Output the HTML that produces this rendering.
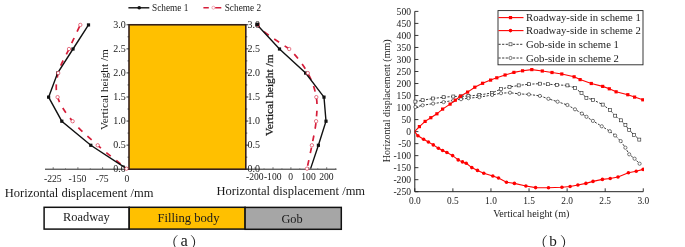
<!DOCTYPE html><html><head><meta charset="utf-8"><title>Figure</title>
<style>html,body{margin:0;padding:0;background:#fff;}svg{display:block;}text{font-family:"Liberation Serif","Noto Serif CJK SC",serif;fill:#1a1a1a;}</style></head><body>
<svg width="685" height="247" viewBox="0 0 685 247">
<rect width="685" height="247" fill="#fff"/>
<rect x="129.0" y="24.78" width="116.80" height="144.42" fill="#FFC000" stroke="#35201c" stroke-width="1.6"/>
<path d="M45 169.2 H129.0" stroke="#222" stroke-width="1" fill="none"/>
<path d="M245.8 169.2 H336.5" stroke="#222" stroke-width="1" fill="none"/>
<path d="M126.5 169.20 H129.0" stroke="#222" stroke-width="0.9"/>
<path d="M245.8 169.20 H248.3" stroke="#222" stroke-width="0.9"/>
<text x="125.7" y="172.20" font-size="10" text-anchor="end">0.0</text>
<text x="247.60000000000002" y="172.20" font-size="10" text-anchor="start">0.0</text>
<path d="M126.5 145.13 H129.0" stroke="#222" stroke-width="0.9"/>
<path d="M245.8 145.13 H248.3" stroke="#222" stroke-width="0.9"/>
<text x="125.7" y="148.13" font-size="10" text-anchor="end">0.5</text>
<text x="247.60000000000002" y="148.13" font-size="10" text-anchor="start">0.5</text>
<path d="M126.5 121.06 H129.0" stroke="#222" stroke-width="0.9"/>
<path d="M245.8 121.06 H248.3" stroke="#222" stroke-width="0.9"/>
<text x="125.7" y="124.06" font-size="10" text-anchor="end">1.0</text>
<text x="247.60000000000002" y="124.06" font-size="10" text-anchor="start">1.0</text>
<path d="M126.5 96.99 H129.0" stroke="#222" stroke-width="0.9"/>
<path d="M245.8 96.99 H248.3" stroke="#222" stroke-width="0.9"/>
<text x="125.7" y="99.99" font-size="10" text-anchor="end">1.5</text>
<text x="247.60000000000002" y="99.99" font-size="10" text-anchor="start">1.5</text>
<path d="M126.5 72.92 H129.0" stroke="#222" stroke-width="0.9"/>
<path d="M245.8 72.92 H248.3" stroke="#222" stroke-width="0.9"/>
<text x="125.7" y="75.92" font-size="10" text-anchor="end">2.0</text>
<text x="247.60000000000002" y="75.92" font-size="10" text-anchor="start">2.0</text>
<path d="M126.5 48.85 H129.0" stroke="#222" stroke-width="0.9"/>
<path d="M245.8 48.85 H248.3" stroke="#222" stroke-width="0.9"/>
<text x="125.7" y="51.85" font-size="10" text-anchor="end">2.5</text>
<text x="247.60000000000002" y="51.85" font-size="10" text-anchor="start">2.5</text>
<path d="M126.5 24.78 H129.0" stroke="#222" stroke-width="0.9"/>
<path d="M245.8 24.78 H248.3" stroke="#222" stroke-width="0.9"/>
<text x="125.7" y="27.78" font-size="10" text-anchor="end">3.0</text>
<text x="247.60000000000002" y="27.78" font-size="10" text-anchor="start">3.0</text>
<path d="M127.5 157.16 H129.0" stroke="#222" stroke-width="0.7"/>
<path d="M245.8 157.16 H247.3" stroke="#222" stroke-width="0.7"/>
<path d="M127.5 133.09 H129.0" stroke="#222" stroke-width="0.7"/>
<path d="M245.8 133.09 H247.3" stroke="#222" stroke-width="0.7"/>
<path d="M127.5 109.02 H129.0" stroke="#222" stroke-width="0.7"/>
<path d="M245.8 109.02 H247.3" stroke="#222" stroke-width="0.7"/>
<path d="M127.5 84.95 H129.0" stroke="#222" stroke-width="0.7"/>
<path d="M245.8 84.95 H247.3" stroke="#222" stroke-width="0.7"/>
<path d="M127.5 60.88 H129.0" stroke="#222" stroke-width="0.7"/>
<path d="M245.8 60.88 H247.3" stroke="#222" stroke-width="0.7"/>
<path d="M127.5 36.81 H129.0" stroke="#222" stroke-width="0.7"/>
<path d="M245.8 36.81 H247.3" stroke="#222" stroke-width="0.7"/>
<path d="M53.2 169.2 v-2" stroke="#444" stroke-width="0.7"/>
<text x="52.800000000000004" y="181.7" font-size="9.7" text-anchor="middle">-225</text>
<path d="M77.9 169.2 v-2" stroke="#444" stroke-width="0.7"/>
<text x="77.5" y="181.7" font-size="9.7" text-anchor="middle">-150</text>
<path d="M102.6 169.2 v-2" stroke="#444" stroke-width="0.7"/>
<text x="102.19999999999999" y="181.7" font-size="9.7" text-anchor="middle">-75</text>
<path d="M127.4 169.2 v-2" stroke="#444" stroke-width="0.7"/>
<text x="127.0" y="181.7" font-size="9.7" text-anchor="middle">0</text>
<path d="M65.5 169.2 v-1.2" stroke="#555" stroke-width="0.5"/>
<path d="M90.3 169.2 v-1.2" stroke="#555" stroke-width="0.5"/>
<path d="M115.0 169.2 v-1.2" stroke="#555" stroke-width="0.5"/>
<path d="M255.10 169.2 v-2" stroke="#444" stroke-width="0.7"/>
<text x="254.80" y="180.1" font-size="9.6" text-anchor="middle">-200</text>
<path d="M273.00 169.2 v-2" stroke="#444" stroke-width="0.7"/>
<text x="272.70" y="180.1" font-size="9.6" text-anchor="middle">-100</text>
<path d="M290.90 169.2 v-2" stroke="#444" stroke-width="0.7"/>
<text x="290.60" y="180.1" font-size="9.6" text-anchor="middle">0</text>
<path d="M308.80 169.2 v-2" stroke="#444" stroke-width="0.7"/>
<text x="308.50" y="180.1" font-size="9.6" text-anchor="middle">100</text>
<path d="M326.70 169.2 v-2" stroke="#444" stroke-width="0.7"/>
<text x="326.40" y="180.1" font-size="9.6" text-anchor="middle">200</text>
<path d="M264.05 169.2 v-1.2" stroke="#555" stroke-width="0.5"/>
<path d="M281.95 169.2 v-1.2" stroke="#555" stroke-width="0.5"/>
<path d="M299.85 169.2 v-1.2" stroke="#555" stroke-width="0.5"/>
<path d="M317.75 169.2 v-1.2" stroke="#555" stroke-width="0.5"/>
<path d="M335.65 169.2 v-1.2" stroke="#555" stroke-width="0.5"/>
<text x="4.8" y="197.2" font-size="12.5">Horizontal displacement /mm</text>
<text x="216.5" y="194.6" font-size="12.5">Horizontal displacement /mm</text>
<text transform="translate(107.6 89.6) rotate(-90)" font-size="11.3" text-anchor="middle">Vertical height /m</text>
<text transform="translate(273.0 95.3) rotate(-90)" font-size="11.4" text-anchor="middle" stroke="#1a1a1a" stroke-width="0.25">Vertical height /m</text>
<path d="M80.3 24.9 C78.4 28.9 72.7 41.0 69.0 49.0 C65.3 57.0 60.1 65.0 58.2 73.1 C56.3 81.1 55.2 89.1 57.6 97.1 C60.0 105.2 65.9 113.2 72.6 121.2 C79.3 129.2 88.7 137.4 97.7 145.3 C106.7 153.2 121.7 164.8 126.5 168.7" fill="none" stroke="#D61E3A" stroke-width="1.7" stroke-dasharray="5.7 6.8" stroke-dashoffset="-2"/>
<path d="M257.8 24.9 C261.5 31.5 274.0 38.5 289.2 49.0 C297.5 57.0 303.3 65.0 307.8 73.1 C312.3 81.1 314.9 89.1 316.3 97.1 C317.7 105.2 316.8 113.2 316.1 121.2 C315.4 129.2 313.4 137.4 311.9 145.3 C310.4 153.2 307.8 164.8 307.0 168.7" fill="none" stroke="#D61E3A" stroke-width="1.7" stroke-dasharray="5.7 6.8" stroke-dashoffset="3"/>
<polyline points="126.5,168.65 90.8,145.28 61.8,121.21 48.6,97.14 57.6,73.07 73.0,49.00 88.5,24.93" fill="none" stroke="#111" stroke-width="1.4"/>
<polyline points="310.6,168.65 318.4,145.28 326.0,121.21 324.0,97.14 305.6,73.07 279.5,49.00 257.3,24.93" fill="none" stroke="#111" stroke-width="1.4"/>
<rect x="89.2" y="143.68" width="3.2" height="3.2" fill="#111"/>
<rect x="60.2" y="119.61" width="3.2" height="3.2" fill="#111"/>
<rect x="47.0" y="95.54" width="3.2" height="3.2" fill="#111"/>
<rect x="56.0" y="71.47" width="3.2" height="3.2" fill="#111"/>
<rect x="71.4" y="47.40" width="3.2" height="3.2" fill="#111"/>
<rect x="86.9" y="23.33" width="3.2" height="3.2" fill="#111"/>
<rect x="316.8" y="143.68" width="3.2" height="3.2" fill="#111"/>
<rect x="324.4" y="119.61" width="3.2" height="3.2" fill="#111"/>
<rect x="322.4" y="95.54" width="3.2" height="3.2" fill="#111"/>
<rect x="304.0" y="71.47" width="3.2" height="3.2" fill="#111"/>
<rect x="277.9" y="47.40" width="3.2" height="3.2" fill="#111"/>
<rect x="255.7" y="23.33" width="3.2" height="3.2" fill="#111"/>
<circle cx="126.5" cy="168.65" r="1.7" fill="#fff" stroke="#D61E3A" stroke-width="0.6"/>
<circle cx="97.7" cy="145.28" r="1.7" fill="#fff" stroke="#D61E3A" stroke-width="0.6"/>
<circle cx="72.6" cy="121.21" r="1.7" fill="#fff" stroke="#D61E3A" stroke-width="0.6"/>
<circle cx="57.6" cy="97.14" r="1.7" fill="#fff" stroke="#D61E3A" stroke-width="0.6"/>
<circle cx="58.2" cy="73.07" r="1.7" fill="#fff" stroke="#D61E3A" stroke-width="0.6"/>
<circle cx="69.0" cy="49.00" r="1.7" fill="#fff" stroke="#D61E3A" stroke-width="0.6"/>
<circle cx="80.3" cy="24.93" r="1.7" fill="#fff" stroke="#D61E3A" stroke-width="0.6"/>
<circle cx="307.0" cy="168.65" r="1.7" fill="#fff" stroke="#D61E3A" stroke-width="0.6"/>
<circle cx="311.9" cy="145.28" r="1.7" fill="#fff" stroke="#D61E3A" stroke-width="0.6"/>
<circle cx="316.1" cy="121.21" r="1.7" fill="#fff" stroke="#D61E3A" stroke-width="0.6"/>
<circle cx="316.3" cy="97.14" r="1.7" fill="#fff" stroke="#D61E3A" stroke-width="0.6"/>
<circle cx="307.8" cy="73.07" r="1.7" fill="#fff" stroke="#D61E3A" stroke-width="0.6"/>
<circle cx="289.2" cy="49.00" r="1.7" fill="#fff" stroke="#D61E3A" stroke-width="0.6"/>
<circle cx="257.8" cy="24.93" r="1.7" fill="#fff" stroke="#D61E3A" stroke-width="0.6"/>
<rect x="255.6" y="22.73" width="3.4" height="3.4" fill="#111"/>
<path d="M128.4 7.8 H149.3" stroke="#111" stroke-width="1.4"/>
<circle cx="139.2" cy="7.8" r="1.8" fill="#111"/>
<text x="152" y="10.9" font-size="9.3">Scheme 1</text>
<path d="M203.4 7.7 H208.8 M215.2 7.7 H221.3" stroke="#D61E3A" stroke-width="1.6"/>
<circle cx="213.4" cy="7.7" r="1.5" fill="#fff" stroke="#D61E3A" stroke-width="0.5" stroke-opacity="0.7"/>
<text x="224.7" y="10.9" font-size="9.3">Scheme 2</text>
<rect x="44.1" y="207.3" width="85.1" height="21.8" fill="#fff" stroke="#111" stroke-width="1.5"/>
<rect x="129.2" y="207.3" width="115.9" height="21.8" fill="#FFC000" stroke="#111" stroke-width="1.5"/>
<rect x="245.1" y="207.4" width="96.2" height="21.9" fill="#A6A6A6" stroke="#111" stroke-width="1.5"/>
<text x="86.4" y="220.6" font-size="12.4" text-anchor="middle">Roadway</text>
<text x="188.5" y="221.8" font-size="12.6" text-anchor="middle">Filling body</text>
<text x="292" y="222.5" font-size="12.3" text-anchor="middle">Gob</text>
<text font-size="15.5"><tspan x="163.2" y="247.6">（</tspan><tspan x="180.4" y="246.3" font-size="16.5">a</tspan><tspan x="189.7" y="247.6">）</tspan></text>
<path d="M414.8 11.40 V191.70 H643.28" stroke="#222" stroke-width="1" fill="none"/>
<path d="M414.8 191.70 h3.6" stroke="#222" stroke-width="0.9"/>
<text x="411" y="194.90" font-size="9.6" text-anchor="end">-250</text>
<path d="M414.8 179.68 h3.6" stroke="#222" stroke-width="0.9"/>
<text x="411" y="182.88" font-size="9.6" text-anchor="end">-200</text>
<path d="M414.8 167.66 h3.6" stroke="#222" stroke-width="0.9"/>
<text x="411" y="170.86" font-size="9.6" text-anchor="end">-150</text>
<path d="M414.8 155.64 h3.6" stroke="#222" stroke-width="0.9"/>
<text x="411" y="158.84" font-size="9.6" text-anchor="end">-100</text>
<path d="M414.8 143.62 h3.6" stroke="#222" stroke-width="0.9"/>
<text x="411" y="146.82" font-size="9.6" text-anchor="end">-50</text>
<path d="M414.8 131.60 h3.6" stroke="#222" stroke-width="0.9"/>
<text x="411" y="134.80" font-size="9.6" text-anchor="end">0</text>
<path d="M414.8 119.58 h3.6" stroke="#222" stroke-width="0.9"/>
<text x="411" y="122.78" font-size="9.6" text-anchor="end">50</text>
<path d="M414.8 107.56 h3.6" stroke="#222" stroke-width="0.9"/>
<text x="411" y="110.76" font-size="9.6" text-anchor="end">100</text>
<path d="M414.8 95.54 h3.6" stroke="#222" stroke-width="0.9"/>
<text x="411" y="98.74" font-size="9.6" text-anchor="end">150</text>
<path d="M414.8 83.52 h3.6" stroke="#222" stroke-width="0.9"/>
<text x="411" y="86.72" font-size="9.6" text-anchor="end">200</text>
<path d="M414.8 71.50 h3.6" stroke="#222" stroke-width="0.9"/>
<text x="411" y="74.70" font-size="9.6" text-anchor="end">250</text>
<path d="M414.8 59.48 h3.6" stroke="#222" stroke-width="0.9"/>
<text x="411" y="62.68" font-size="9.6" text-anchor="end">300</text>
<path d="M414.8 47.46 h3.6" stroke="#222" stroke-width="0.9"/>
<text x="411" y="50.66" font-size="9.6" text-anchor="end">350</text>
<path d="M414.8 35.44 h3.6" stroke="#222" stroke-width="0.9"/>
<text x="411" y="38.64" font-size="9.6" text-anchor="end">400</text>
<path d="M414.8 23.42 h3.6" stroke="#222" stroke-width="0.9"/>
<text x="411" y="26.62" font-size="9.6" text-anchor="end">450</text>
<path d="M414.8 11.40 h3.6" stroke="#222" stroke-width="0.9"/>
<text x="411" y="14.60" font-size="9.6" text-anchor="end">500</text>
<path d="M414.80 191.70 v-3.4" stroke="#222" stroke-width="0.9"/>
<text x="414.80" y="203.6" font-size="9.4" text-anchor="middle">0.0</text>
<path d="M452.88 191.70 v-3.4" stroke="#222" stroke-width="0.9"/>
<text x="452.88" y="203.6" font-size="9.4" text-anchor="middle">0.5</text>
<path d="M490.96 191.70 v-3.4" stroke="#222" stroke-width="0.9"/>
<text x="490.96" y="203.6" font-size="9.4" text-anchor="middle">1.0</text>
<path d="M529.04 191.70 v-3.4" stroke="#222" stroke-width="0.9"/>
<text x="529.04" y="203.6" font-size="9.4" text-anchor="middle">1.5</text>
<path d="M567.12 191.70 v-3.4" stroke="#222" stroke-width="0.9"/>
<text x="567.12" y="203.6" font-size="9.4" text-anchor="middle">2.0</text>
<path d="M605.20 191.70 v-3.4" stroke="#222" stroke-width="0.9"/>
<text x="605.20" y="203.6" font-size="9.4" text-anchor="middle">2.5</text>
<path d="M643.28 191.70 v-3.4" stroke="#222" stroke-width="0.9"/>
<text x="643.28" y="203.6" font-size="9.4" text-anchor="middle">3.0</text>
<text x="531.3" y="217.0" font-size="10.1" text-anchor="middle">Vertical height (m)</text>
<text transform="translate(389.9 100.8) rotate(-90)" font-size="10" text-anchor="middle">Horizontal displacement (mm)</text>
<text font-size="15.5"><tspan x="532.4" y="247.6">（</tspan><tspan x="549.3" y="246.3" font-size="15.2">b</tspan><tspan x="559.7" y="247.6">）</tspan></text>
<defs><clipPath id="cb"><rect x="412" y="8" width="231.9" height="186"/></clipPath></defs>
<g clip-path="url(#cb)">
<polyline points="415.4,101.6 422.6,100.2 433.1,98.5 443.6,97.2 453.3,96.5 461.0,96.3 468.4,96.0 479.3,95.0 492.1,92.9 501.0,89.0 509.5,87.1 518.7,85.4 528.9,84.2 539.9,83.7 547.9,84.2 556.9,84.9 567.4,85.4 574.9,88.0 581.5,93.0 586.4,97.8 593.0,99.8 602.7,104.6 610.0,110.0 615.2,115.7 620.8,120.3 625.4,125.1 629.2,130.0 634.1,134.8 639.3,139.6" fill="none" stroke="#222" stroke-width="0.9" stroke-dasharray="2.2 1.4"/>
<polyline points="415.4,107.0 422.6,105.3 433.1,103.6 443.6,102.1 453.3,100.4 461.0,99.2 468.4,98.2 479.3,97.2 492.1,95.0 501.0,93.2 510.0,92.7 519.2,93.9 528.9,94.4 539.9,95.9 548.4,98.8 557.6,101.7 567.4,105.0 575.0,109.3 581.9,113.6 586.5,116.8 592.9,120.9 601.8,126.3 609.8,131.2 615.1,135.5 620.7,141.1 625.4,147.7 629.2,154.3 634.6,158.7 639.6,163.7" fill="none" stroke="#222" stroke-width="0.9" stroke-dasharray="2.2 1.4"/>
<rect x="413.9" y="100.1" width="3" height="3" fill="#fff" stroke="#222" stroke-width="0.6"/>
<rect x="421.1" y="98.7" width="3" height="3" fill="#fff" stroke="#222" stroke-width="0.6"/>
<rect x="431.6" y="97.0" width="3" height="3" fill="#fff" stroke="#222" stroke-width="0.6"/>
<rect x="442.1" y="95.7" width="3" height="3" fill="#fff" stroke="#222" stroke-width="0.6"/>
<rect x="451.8" y="95.0" width="3" height="3" fill="#fff" stroke="#222" stroke-width="0.6"/>
<rect x="459.5" y="94.8" width="3" height="3" fill="#fff" stroke="#222" stroke-width="0.6"/>
<rect x="466.9" y="94.5" width="3" height="3" fill="#fff" stroke="#222" stroke-width="0.6"/>
<rect x="477.8" y="93.5" width="3" height="3" fill="#fff" stroke="#222" stroke-width="0.6"/>
<rect x="490.6" y="91.4" width="3" height="3" fill="#fff" stroke="#222" stroke-width="0.6"/>
<rect x="499.5" y="87.5" width="3" height="3" fill="#fff" stroke="#222" stroke-width="0.6"/>
<rect x="508.0" y="85.6" width="3" height="3" fill="#fff" stroke="#222" stroke-width="0.6"/>
<rect x="517.2" y="83.9" width="3" height="3" fill="#fff" stroke="#222" stroke-width="0.6"/>
<rect x="527.4" y="82.7" width="3" height="3" fill="#fff" stroke="#222" stroke-width="0.6"/>
<rect x="538.4" y="82.2" width="3" height="3" fill="#fff" stroke="#222" stroke-width="0.6"/>
<rect x="546.4" y="82.7" width="3" height="3" fill="#fff" stroke="#222" stroke-width="0.6"/>
<rect x="555.4" y="83.4" width="3" height="3" fill="#fff" stroke="#222" stroke-width="0.6"/>
<rect x="565.9" y="83.9" width="3" height="3" fill="#fff" stroke="#222" stroke-width="0.6"/>
<rect x="573.4" y="86.5" width="3" height="3" fill="#fff" stroke="#222" stroke-width="0.6"/>
<rect x="580.0" y="91.5" width="3" height="3" fill="#fff" stroke="#222" stroke-width="0.6"/>
<rect x="584.9" y="96.3" width="3" height="3" fill="#fff" stroke="#222" stroke-width="0.6"/>
<rect x="591.5" y="98.3" width="3" height="3" fill="#fff" stroke="#222" stroke-width="0.6"/>
<rect x="601.2" y="103.1" width="3" height="3" fill="#fff" stroke="#222" stroke-width="0.6"/>
<rect x="608.5" y="108.5" width="3" height="3" fill="#fff" stroke="#222" stroke-width="0.6"/>
<rect x="613.7" y="114.2" width="3" height="3" fill="#fff" stroke="#222" stroke-width="0.6"/>
<rect x="619.3" y="118.8" width="3" height="3" fill="#fff" stroke="#222" stroke-width="0.6"/>
<rect x="623.9" y="123.6" width="3" height="3" fill="#fff" stroke="#222" stroke-width="0.6"/>
<rect x="627.7" y="128.5" width="3" height="3" fill="#fff" stroke="#222" stroke-width="0.6"/>
<rect x="632.6" y="133.3" width="3" height="3" fill="#fff" stroke="#222" stroke-width="0.6"/>
<rect x="637.8" y="138.1" width="3" height="3" fill="#fff" stroke="#222" stroke-width="0.6"/>
<circle cx="415.4" cy="107.0" r="1.6" fill="#fff" stroke="#222" stroke-width="0.6"/>
<circle cx="422.6" cy="105.3" r="1.6" fill="#fff" stroke="#222" stroke-width="0.6"/>
<circle cx="433.1" cy="103.6" r="1.6" fill="#fff" stroke="#222" stroke-width="0.6"/>
<circle cx="443.6" cy="102.1" r="1.6" fill="#fff" stroke="#222" stroke-width="0.6"/>
<circle cx="453.3" cy="100.4" r="1.6" fill="#fff" stroke="#222" stroke-width="0.6"/>
<circle cx="461.0" cy="99.2" r="1.6" fill="#fff" stroke="#222" stroke-width="0.6"/>
<circle cx="468.4" cy="98.2" r="1.6" fill="#fff" stroke="#222" stroke-width="0.6"/>
<circle cx="479.3" cy="97.2" r="1.6" fill="#fff" stroke="#222" stroke-width="0.6"/>
<circle cx="492.1" cy="95.0" r="1.6" fill="#fff" stroke="#222" stroke-width="0.6"/>
<circle cx="501.0" cy="93.2" r="1.6" fill="#fff" stroke="#222" stroke-width="0.6"/>
<circle cx="510.0" cy="92.7" r="1.6" fill="#fff" stroke="#222" stroke-width="0.6"/>
<circle cx="519.2" cy="93.9" r="1.6" fill="#fff" stroke="#222" stroke-width="0.6"/>
<circle cx="528.9" cy="94.4" r="1.6" fill="#fff" stroke="#222" stroke-width="0.6"/>
<circle cx="539.9" cy="95.9" r="1.6" fill="#fff" stroke="#222" stroke-width="0.6"/>
<circle cx="548.4" cy="98.8" r="1.6" fill="#fff" stroke="#222" stroke-width="0.6"/>
<circle cx="557.6" cy="101.7" r="1.6" fill="#fff" stroke="#222" stroke-width="0.6"/>
<circle cx="567.4" cy="105.0" r="1.6" fill="#fff" stroke="#222" stroke-width="0.6"/>
<circle cx="575.0" cy="109.3" r="1.6" fill="#fff" stroke="#222" stroke-width="0.6"/>
<circle cx="581.9" cy="113.6" r="1.6" fill="#fff" stroke="#222" stroke-width="0.6"/>
<circle cx="586.5" cy="116.8" r="1.6" fill="#fff" stroke="#222" stroke-width="0.6"/>
<circle cx="592.9" cy="120.9" r="1.6" fill="#fff" stroke="#222" stroke-width="0.6"/>
<circle cx="601.8" cy="126.3" r="1.6" fill="#fff" stroke="#222" stroke-width="0.6"/>
<circle cx="609.8" cy="131.2" r="1.6" fill="#fff" stroke="#222" stroke-width="0.6"/>
<circle cx="615.1" cy="135.5" r="1.6" fill="#fff" stroke="#222" stroke-width="0.6"/>
<circle cx="620.7" cy="141.1" r="1.6" fill="#fff" stroke="#222" stroke-width="0.6"/>
<circle cx="625.4" cy="147.7" r="1.6" fill="#fff" stroke="#222" stroke-width="0.6"/>
<circle cx="629.2" cy="154.3" r="1.6" fill="#fff" stroke="#222" stroke-width="0.6"/>
<circle cx="634.6" cy="158.7" r="1.6" fill="#fff" stroke="#222" stroke-width="0.6"/>
<circle cx="639.6" cy="163.7" r="1.6" fill="#fff" stroke="#222" stroke-width="0.6"/>
<polyline points="414.8,131.4 419.4,126.6 425.1,121.4 430.8,117.7 436.9,113.8 442.6,109.1 450.1,104.1 455.3,100.2 460.4,96.3 467.6,92.1 474.8,87.2 482.6,83.3 490.6,80.1 496.8,77.8 505.1,75.0 513.9,72.4 522.6,70.8 531.8,69.6 542.3,71.0 552.0,72.5 561.8,74.0 574.1,76.8 580.1,79.6 591.3,83.5 602.7,86.4 609.3,88.8 616.1,91.8 627.8,94.7 634.6,97.1 642.8,99.8" fill="none" stroke="#FF0000" stroke-width="1.1"/>
<polyline points="414.8,131.8 417.9,135.8 423.6,139.2 428.4,142.0 433.3,144.9 438.4,148.3 442.6,150.5 446.9,152.5 452.6,155.6 458.2,159.9 462.5,161.9 466.2,163.3 471.8,167.6 477.5,170.4 483.8,173.2 492.8,176.0 498.5,178.0 506.5,182.3 514.4,183.4 525.9,186.0 535.6,187.6 548.5,187.7 561.9,187.2 570.1,186.5 577.9,185.0 585.9,183.4 593.0,181.4 602.4,179.4 610.2,178.5 618.0,177.0 628.4,172.7 636.2,171.2 643.1,169.4" fill="none" stroke="#FF0000" stroke-width="1.1"/>
<rect x="417.8" y="125.0" width="3.2" height="3.2" fill="#FF0000"/>
<rect x="423.5" y="119.8" width="3.2" height="3.2" fill="#FF0000"/>
<rect x="429.2" y="116.1" width="3.2" height="3.2" fill="#FF0000"/>
<rect x="435.3" y="112.2" width="3.2" height="3.2" fill="#FF0000"/>
<rect x="441.0" y="107.5" width="3.2" height="3.2" fill="#FF0000"/>
<rect x="448.5" y="102.5" width="3.2" height="3.2" fill="#FF0000"/>
<rect x="453.7" y="98.6" width="3.2" height="3.2" fill="#FF0000"/>
<rect x="458.8" y="94.7" width="3.2" height="3.2" fill="#FF0000"/>
<rect x="466.0" y="90.5" width="3.2" height="3.2" fill="#FF0000"/>
<rect x="473.2" y="85.6" width="3.2" height="3.2" fill="#FF0000"/>
<rect x="481.0" y="81.7" width="3.2" height="3.2" fill="#FF0000"/>
<rect x="489.0" y="78.5" width="3.2" height="3.2" fill="#FF0000"/>
<rect x="495.2" y="76.2" width="3.2" height="3.2" fill="#FF0000"/>
<rect x="503.5" y="73.4" width="3.2" height="3.2" fill="#FF0000"/>
<rect x="512.3" y="70.8" width="3.2" height="3.2" fill="#FF0000"/>
<rect x="521.0" y="69.2" width="3.2" height="3.2" fill="#FF0000"/>
<rect x="530.2" y="68.0" width="3.2" height="3.2" fill="#FF0000"/>
<rect x="540.7" y="69.4" width="3.2" height="3.2" fill="#FF0000"/>
<rect x="550.4" y="70.9" width="3.2" height="3.2" fill="#FF0000"/>
<rect x="560.2" y="72.4" width="3.2" height="3.2" fill="#FF0000"/>
<rect x="572.5" y="75.2" width="3.2" height="3.2" fill="#FF0000"/>
<rect x="578.5" y="78.0" width="3.2" height="3.2" fill="#FF0000"/>
<rect x="589.7" y="81.9" width="3.2" height="3.2" fill="#FF0000"/>
<rect x="601.1" y="84.8" width="3.2" height="3.2" fill="#FF0000"/>
<rect x="607.7" y="87.2" width="3.2" height="3.2" fill="#FF0000"/>
<rect x="614.5" y="90.2" width="3.2" height="3.2" fill="#FF0000"/>
<rect x="626.2" y="93.1" width="3.2" height="3.2" fill="#FF0000"/>
<rect x="633.0" y="95.5" width="3.2" height="3.2" fill="#FF0000"/>
<rect x="641.2" y="98.2" width="3.2" height="3.2" fill="#FF0000"/>
<circle cx="417.9" cy="135.8" r="1.8" fill="#FF0000"/>
<circle cx="423.6" cy="139.2" r="1.8" fill="#FF0000"/>
<circle cx="428.4" cy="142.0" r="1.8" fill="#FF0000"/>
<circle cx="433.3" cy="144.9" r="1.8" fill="#FF0000"/>
<circle cx="438.4" cy="148.3" r="1.8" fill="#FF0000"/>
<circle cx="442.6" cy="150.5" r="1.8" fill="#FF0000"/>
<circle cx="446.9" cy="152.5" r="1.8" fill="#FF0000"/>
<circle cx="452.6" cy="155.6" r="1.8" fill="#FF0000"/>
<circle cx="458.2" cy="159.9" r="1.8" fill="#FF0000"/>
<circle cx="462.5" cy="161.9" r="1.8" fill="#FF0000"/>
<circle cx="466.2" cy="163.3" r="1.8" fill="#FF0000"/>
<circle cx="471.8" cy="167.6" r="1.8" fill="#FF0000"/>
<circle cx="477.5" cy="170.4" r="1.8" fill="#FF0000"/>
<circle cx="483.8" cy="173.2" r="1.8" fill="#FF0000"/>
<circle cx="492.8" cy="176.0" r="1.8" fill="#FF0000"/>
<circle cx="498.5" cy="178.0" r="1.8" fill="#FF0000"/>
<circle cx="506.5" cy="182.3" r="1.8" fill="#FF0000"/>
<circle cx="514.4" cy="183.4" r="1.8" fill="#FF0000"/>
<circle cx="525.9" cy="186.0" r="1.8" fill="#FF0000"/>
<circle cx="535.6" cy="187.6" r="1.8" fill="#FF0000"/>
<circle cx="548.5" cy="187.7" r="1.8" fill="#FF0000"/>
<circle cx="561.9" cy="187.2" r="1.8" fill="#FF0000"/>
<circle cx="570.1" cy="186.5" r="1.8" fill="#FF0000"/>
<circle cx="577.9" cy="185.0" r="1.8" fill="#FF0000"/>
<circle cx="585.9" cy="183.4" r="1.8" fill="#FF0000"/>
<circle cx="593.0" cy="181.4" r="1.8" fill="#FF0000"/>
<circle cx="602.4" cy="179.4" r="1.8" fill="#FF0000"/>
<circle cx="610.2" cy="178.5" r="1.8" fill="#FF0000"/>
<circle cx="618.0" cy="177.0" r="1.8" fill="#FF0000"/>
<circle cx="628.4" cy="172.7" r="1.8" fill="#FF0000"/>
<circle cx="636.2" cy="171.2" r="1.8" fill="#FF0000"/>
<circle cx="643.1" cy="169.4" r="1.8" fill="#FF0000"/>
</g>
<rect x="498" y="10.6" width="145" height="54.2" fill="#fff" stroke="#222" stroke-width="0.9"/>
<path d="M498.5 17.6 H523.5" stroke="#FF0000" stroke-width="1.1"/>
<rect x="508.9" y="16.0" width="3.2" height="3.2" fill="#FF0000"/>
<text x="526" y="21.1" font-size="10.7">Roadway-side in scheme 1</text>
<path d="M498.5 30.6 H523.5" stroke="#FF0000" stroke-width="1.1"/>
<circle cx="510.5" cy="30.6" r="1.8" fill="#FF0000"/>
<text x="526" y="34.1" font-size="10.7">Roadway-side in scheme 2</text>
<path d="M498.5 44.3 H523.5" stroke="#222" stroke-width="0.9" stroke-dasharray="2.2 1.4"/>
<rect x="509" y="42.8" width="3" height="3" fill="#fff" stroke="#222" stroke-width="0.6"/>
<text x="526" y="47.8" font-size="10.7">Gob-side in scheme 1</text>
<path d="M498.5 58.0 H523.5" stroke="#222" stroke-width="0.9" stroke-dasharray="2.2 1.4"/>
<circle cx="510.5" cy="58.0" r="1.6" fill="#fff" stroke="#222" stroke-width="0.6"/>
<text x="526" y="61.5" font-size="10.7">Gob-side in scheme 2</text>
</svg></body></html>
